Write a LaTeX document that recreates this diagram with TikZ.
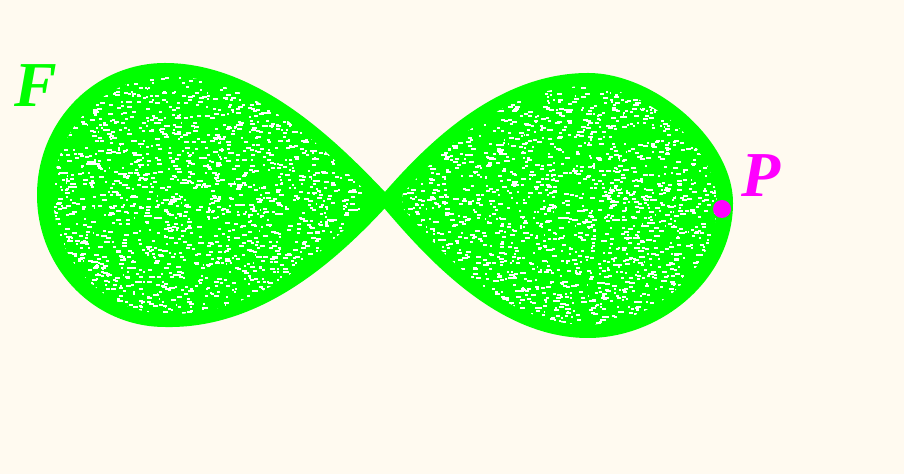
\documentclass[tikz,border=0pt]{standalone}
\usepackage{fontspec}
\setmainfont{Liberation Serif}
\usepackage{tikz}
\usetikzlibrary{positioning}
\definecolor{cream}{RGB}{255,250,240}
\definecolor{figgreen}{RGB}{0,255,0}
\definecolor{ptmagenta}{RGB}{255,0,255}
% outlines of the two lobes (pixel coordinates, y downwards)
\newcommand\leftlobe{(386,193) .. controls (340,145) and (260,63) .. (165,63)
  .. controls (94,63) and (37,122) .. (37,195)
  .. controls (37,268) and (94,327) .. (165,327)
  .. controls (260,329) and (335,262) .. (386,207) -- cycle}
\newcommand\rightlobe{(384,193) .. controls (430,140) and (500,73) .. (588,73)
  .. controls (655,73) and (733,140) .. (733,203)
  .. controls (733,280) and (660,338) .. (588,338)
  .. controls (500,338) and (430,262) .. (384,208) -- cycle}

\begin{document}
\begin{tikzpicture}[x=0.5pt,y=-0.5pt,
  lbl/.style={font=\fontsize{32}{32}\selectfont\bfseries\itshape, inner sep=0pt},
  speck/.style={fill=white}]
\fill[cream] (0,0) rectangle (904,474);
\useasboundingbox (0,0) rectangle (904,474);
% the figure F
\fill[figgreen] \leftlobe;
\fill[figgreen] \rightlobe;
% gaps left by the hatching
\pgfmathsetseed{42}
\begin{scope}
\clip[scale around={0.9:(200,196)}] \leftlobe;
\foreach \i in {1,...,2400}{
  \pgfmathsetmacro\sx{40+345*rnd}
  \pgfmathsetmacro\sy{65+262*rnd}
  \pgfmathsetmacro\sw{1.5+4*rnd}
  \fill[speck] (\sx,\sy) rectangle ++(\sw,2);
}
\end{scope}
\begin{scope}
\clip[scale around={0.9:(570,205)}] \rightlobe;
\foreach \i in {1,...,2400}{
  \pgfmathsetmacro\sx{385+348*rnd}
  \pgfmathsetmacro\sy{73+265*rnd}
  \pgfmathsetmacro\sw{1.5+4*rnd}
  \fill[speck] (\sx,\sy) rectangle ++(\sw,2);
}
\end{scope}
% labels and the point
\node[lbl, text=figgreen] (F) at (36,86) {F};
\node[circle, fill=ptmagenta, minimum size=9pt, inner sep=0pt] (pdot) at (722,209) {};
\node[lbl, text=ptmagenta] (P) at (761,176) {P};
\end{tikzpicture}
\end{document}
